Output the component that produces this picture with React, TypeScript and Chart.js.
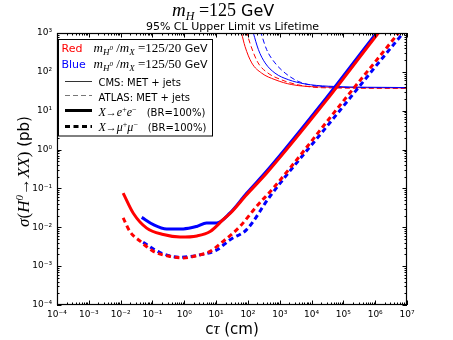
import React, { useEffect, useRef } from 'react';
import { Chart, registerables } from 'chart.js';

Chart.register(...registerables);

// X -> e+ e-, mH0/mX = 125/20 GeV (red, thick solid)
const eeRedCtau = [0.012, 0.025, 0.066, 0.22, 0.74, 2.5, 6.5, 17, 28, 91, 390, 30000, 1.26e6, 2.5e6];
const eeRedSigma = [0.076, 0.023, 0.0095, 0.0065, 0.0056, 0.006, 0.0078, 0.016, 0.023, 0.069, 0.25, 19, 1000, 2000];

// X -> e+ e-, mH0/mX = 125/50 GeV (blue, thick solid)
const eeBlueCtau = [0.046, 0.107, 0.28, 0.93, 2.45, 5.0, 10.5, 27.5, 91, 390, 30000, 1.1e6, 2.5e6];
const eeBlueSigma = [0.018, 0.0117, 0.0091, 0.0091, 0.0105, 0.0129, 0.0129, 0.0234, 0.075, 0.28, 22, 1000, 2300];

// X -> mu+ mu-, 125/20 (red, thick dashed)
const mmRedCtau = [0.012, 0.0195, 0.041, 0.107, 0.355, 0.93, 2.45, 6.5, 17, 56, 190, 630, 89000, 5.4e6, 1e7];
const mmRedSigma = [0.0174, 0.0078, 0.0044, 0.0024, 0.00178, 0.00162, 0.00186, 0.0024, 0.0044, 0.0105, 0.035, 0.102, 15.8, 1000, 1900];

// X -> mu+ mu-, 125/50 (blue, thick dashed)
const mmBlueCtau = [0.051, 0.174, 0.74, 3.1, 10.5, 27.5, 91, 490, 31600, 7.6e6, 1e7];
const mmBlueSigma = [0.0041, 0.00224, 0.0017, 0.00195, 0.0026, 0.0048, 0.0087, 0.062, 4.1, 1000, 1300];

// CMS: MET + jets (thin solid)
const cmsRedCtau = [52.5, 63, 81, 132, 269, 708, 2400, 16200, 1e7];
const cmsRedSigma = [1800, 1000, 452, 170, 93, 63, 47, 41, 38.5];
const cmsBlueCtau = [120, 148, 214, 347, 708, 1860, 6170, 33900, 1e7];
const cmsBlueSigma = [1750, 1000, 372, 170, 93, 63, 49, 42.7, 39.4];

// ATLAS: MET + jets (thin dashed)
const atlasRedCtau = [78, 93, 126, 209, 427, 1100, 3470, 21400, 1e7];
const atlasRedSigma = [1800, 1000, 452, 170, 93, 63, 47, 39, 37.5];
const atlasBlueCtau = [204, 257, 389, 708, 1480, 3800, 12900, 55000, 1e7];
const atlasBlueSigma = [1750, 1000, 372, 170, 93, 57, 43.6, 40.7, 38.9];

// axis decades
const xExponents = [-4, -3, -2, -1, 0, 1, 2, 3, 4, 5, 6, 7];
const yExponents = [-4, -3, -2, -1, 0, 1, 2, 3];

const RED = '#ff0000';
const BLUE = '#0000ff';
const SERIF = '"Liberation Serif", "DejaVu Serif", serif';
const SANS = '"DejaVu Sans", sans-serif';

const SUP: Record<string, string> = {
  '-': '\u207B', '0': '\u2070', '1': '\u00B9', '2': '\u00B2', '3': '\u00B3',
  '4': '\u2074', '5': '\u2075', '6': '\u2076', '7': '\u2077', '8': '\u2078', '9': '\u2079',
};
const powLabel = (e: number) => '10' + String(e).split('').map((c) => SUP[c]).join('');

function buildTicks(exps: number[]) {
  const out: { value: number; major: boolean }[] = [];
  for (let i = 0; i < exps.length; i++) {
    const base = Math.pow(10, exps[i]);
    out.push({ value: base, major: true });
    if (i < exps.length - 1) {
      for (let m = 2; m <= 9; m++) out.push({ value: m * base, major: false });
    }
  }
  return out;
}

const isPow10 = (v: number) => Math.abs(Math.log10(v) - Math.round(Math.log10(v))) < 1e-9;

const pts = (xs: number[], ys: number[]) => xs.map((x, i) => ({ x, y: ys[i] }));

type Seg = { t: string; f: string; dy?: number; c?: string };
function segWidth(ctx: CanvasRenderingContext2D, segs: Seg[]) {
  let w = 0;
  for (const s of segs) { ctx.font = s.f; w += ctx.measureText(s.t).width; }
  return w;
}
function drawSegs(ctx: CanvasRenderingContext2D, segs: Seg[], x: number, y: number) {
  let cx = x;
  for (const s of segs) {
    ctx.font = s.f;
    ctx.fillStyle = s.c || '#000';
    ctx.fillText(s.t, cx, y + (s.dy || 0));
    cx += ctx.measureText(s.t).width;
  }
  return cx - x;
}

const it = (px: number) => `italic ${px}px ${SERIF}`;
const rm = (px: number) => `${px}px ${SERIF}`;
const sans = (px: number) => `${px}px ${SANS}`;

const decorPlugin = {
  id: 'decor',
  afterDraw(chart: any) {
    const { ctx, chartArea: a, scales } = chart;
    const xs = scales.x;
    const ys = scales.y;
    ctx.save();
    // inward ticks on all four sides
    ctx.strokeStyle = '#000';
    ctx.lineWidth = 1;
    ctx.beginPath();
    for (const t of xs.ticks) {
      const px = Math.round(xs.getPixelForValue(t.value)) + 0.5;
      const len = isPow10(t.value) ? 4.5 : 2.5;
      ctx.moveTo(px, a.bottom); ctx.lineTo(px, a.bottom - len);
      ctx.moveTo(px, a.top); ctx.lineTo(px, a.top + len);
    }
    for (const t of ys.ticks) {
      const py = Math.round(ys.getPixelForValue(t.value)) + 0.5;
      const len = isPow10(t.value) ? 4.5 : 2.5;
      ctx.moveTo(a.left, py); ctx.lineTo(a.left + len, py);
      ctx.moveTo(a.right, py); ctx.lineTo(a.right - len, py);
    }
    ctx.stroke();
    ctx.lineWidth = 1.2;
    ctx.strokeRect(a.left + 0.5, a.top + 0.5, a.right - a.left - 1, a.bottom - a.top - 1);

    // legend box
    ctx.fillStyle = '#fff';
    ctx.fillRect(58.5, 39.5, 154, 96.5);
    ctx.lineWidth = 1;
    ctx.strokeStyle = '#000';
    ctx.strokeRect(58.5, 39.5, 154, 96.5);
    ctx.textBaseline = 'alphabetic';
    ctx.textAlign = 'left';

    const massSegs = (ratio: string): Seg[] => [
      { t: 'm', f: it(13) },
      { t: 'H', f: it(9), dy: 3 },
      { t: '0', f: it(7), dy: -2 },
      { t: ' /', f: rm(13) },
      { t: 'm', f: it(13) },
      { t: 'X', f: it(9), dy: 3 },
      { t: ' =' + ratio, f: rm(13) },
      { t: ' GeV', f: sans(11) },
    ];
    ctx.font = sans(11);
    ctx.fillStyle = RED;
    ctx.fillText('Red', 61.5, 51.5);
    drawSegs(ctx, massSegs('125/20'), 93.5, 51.5);
    ctx.font = sans(11);
    ctx.fillStyle = BLUE;
    ctx.fillText('Blue', 61.5, 67.5);
    drawSegs(ctx, massSegs('125/50'), 93.5, 67.5);

    // line samples
    const sample = (y: number, lw: number, dash: number[], color: string) => {
      ctx.beginPath();
      ctx.setLineDash(dash);
      ctx.lineWidth = lw;
      ctx.strokeStyle = color;
      ctx.moveTo(65, y); ctx.lineTo(92, y);
      ctx.stroke();
      ctx.setLineDash([]);
    };
    sample(81.5, 1, [], '#333');
    sample(95.5, 1, [5, 3], '#777');
    sample(110.5, 3, [], '#000');
    sample(126.5, 3, [5, 3.5], '#000');

    ctx.fillStyle = '#000';
    ctx.font = sans(10);
    ctx.fillText('CMS: MET + jets', 98.5, 85.5);
    ctx.fillText('ATLAS: MET + jets', 98.5, 100.5);
    drawSegs(ctx, [
      { t: 'X', f: it(12) }, { t: '\u2192', f: rm(11) }, { t: 'e', f: it(12) },
      { t: '+', f: rm(8), dy: -4 }, { t: 'e', f: it(12) }, { t: '\u2212', f: rm(8), dy: -4 },
    ], 98.5, 115.5);
    ctx.font = sans(10); ctx.fillStyle = '#000';
    ctx.fillText('(BR=100%)', 146.7, 115.5);
    drawSegs(ctx, [
      { t: 'X', f: it(12) }, { t: '\u2192', f: rm(11) }, { t: '\u03BC', f: it(12) },
      { t: '+', f: rm(8), dy: -4 }, { t: '\u03BC', f: it(12) }, { t: '\u2212', f: rm(8), dy: -4 },
    ], 98.5, 131);
    ctx.font = sans(10); ctx.fillStyle = '#000';
    ctx.fillText('(BR=100%)', 147.7, 131);

    // titles
    const title: Seg[] = [
      { t: 'm', f: it(19) }, { t: 'H', f: it(12), dy: 4 }, { t: ' =125', f: rm(18) }, { t: ' GeV', f: sans(16) },
    ];
    drawSegs(ctx, title, 172, 16);
    ctx.font = sans(11);
    ctx.fillStyle = '#000';
    ctx.textAlign = 'center';
    ctx.fillText('95% CL Upper Limit vs Lifetime', 232.5, 29.5);
    ctx.textAlign = 'left';

    // x axis title
    const xt: Seg[] = [{ t: 'c', f: sans(15) }, { t: '\u03C4', f: it(17) }, { t: ' (cm)', f: sans(15) }];
    const xw = segWidth(ctx, xt);
    drawSegs(ctx, xt, 232 - xw / 2, 334);

    // y axis title
    const yt: Seg[] = [
      { t: '\u03C3', f: it(17) }, { t: '(', f: rm(17) }, { t: 'H', f: it(17) }, { t: '0', f: it(11), dy: -6 },
      { t: '\u2192', f: rm(17) }, { t: 'XX', f: it(17) }, { t: ')', f: rm(17) }, { t: ' (pb)', f: sans(15) },
    ];
    const yw = segWidth(ctx, yt);
    ctx.translate(29, 171.5);
    ctx.rotate(-Math.PI / 2);
    drawSegs(ctx, yt, -yw / 2, 0);
    ctx.restore();
  },
};

export default function App() {
  const ref = useRef<HTMLCanvasElement | null>(null);
  useEffect(() => {
    if (!ref.current) return;
    const thick = 3;
    const thin = 1;
    const ds = (label: string, xs: number[], ys: number[], color: string, width: number, dash: number[]) => ({
      label,
      data: pts(xs, ys),
      borderColor: color,
      backgroundColor: color,
      borderWidth: width,
      borderDash: dash,
      pointRadius: 0,
      fill: false,
      cubicInterpolationMode: 'monotone' as const,
    });
    const chart = new Chart(ref.current, {
      type: 'line',
      data: {
        datasets: [
          ds('e+e- 125/20', eeRedCtau, eeRedSigma, RED, thick, []),
          ds('e+e- 125/50', eeBlueCtau, eeBlueSigma, BLUE, thick, []),
          ds('mu+mu- 125/20', mmRedCtau, mmRedSigma, RED, thick, [5, 3.5]),
          ds('mu+mu- 125/50', mmBlueCtau, mmBlueSigma, BLUE, thick, [5, 3.5]),
          ds('CMS 125/50', cmsBlueCtau, cmsBlueSigma, BLUE, thin, []),
          ds('ATLAS 125/50', atlasBlueCtau, atlasBlueSigma, BLUE, thin, [5, 3]),
          ds('CMS 125/20', cmsRedCtau, cmsRedSigma, RED, thin, []),
          ds('ATLAS 125/20', atlasRedCtau, atlasRedSigma, RED, thin, [5, 3]),
        ],
      },
      options: {
        responsive: false,
        animation: false,
        devicePixelRatio: 1,
        layout: { padding: { left: 0, top: 33, right: 46, bottom: 0 } },
        plugins: { legend: { display: false }, tooltip: { enabled: false }, title: { display: false } },
        scales: {
          x: {
            type: 'logarithmic',
            min: 1e-4,
            max: 1e7,
            grid: { display: false, drawTicks: false },
            border: { display: false },
            afterBuildTicks: (s: any) => { s.ticks = buildTicks(xExponents); },
            afterFit: (s: any) => { s.height = 35; },
            ticks: {
              autoSkip: false,
              maxRotation: 0,
              minRotation: 0,
              padding: 4,
              color: '#000',
              font: { family: SANS, size: 9 },
              callback: (v: any) => (isPow10(Number(v)) ? powLabel(Math.round(Math.log10(Number(v)))) : ''),
            },
          },
          y: {
            type: 'logarithmic',
            min: 1e-4,
            max: 1e3,
            grid: { display: false, drawTicks: false },
            border: { display: false },
            afterBuildTicks: (s: any) => { s.ticks = buildTicks(yExponents); },
            afterFit: (s: any) => { s.width = 57; },
            ticks: {
              autoSkip: false,
              padding: 5,
              color: '#000',
              font: { family: SANS, size: 9 },
              callback: (v: any) => (isPow10(Number(v)) ? powLabel(Math.round(Math.log10(Number(v)))) : ''),
            },
          },
        },
      },
      plugins: [decorPlugin],
    });
    return () => chart.destroy();
  }, []);
  return (
    <div style={{ position: 'absolute', left: 0, top: 0, width: 453, height: 340, background: '#fff' }}>
      <canvas ref={ref} width={453} height={340} />
    </div>
  );
}
